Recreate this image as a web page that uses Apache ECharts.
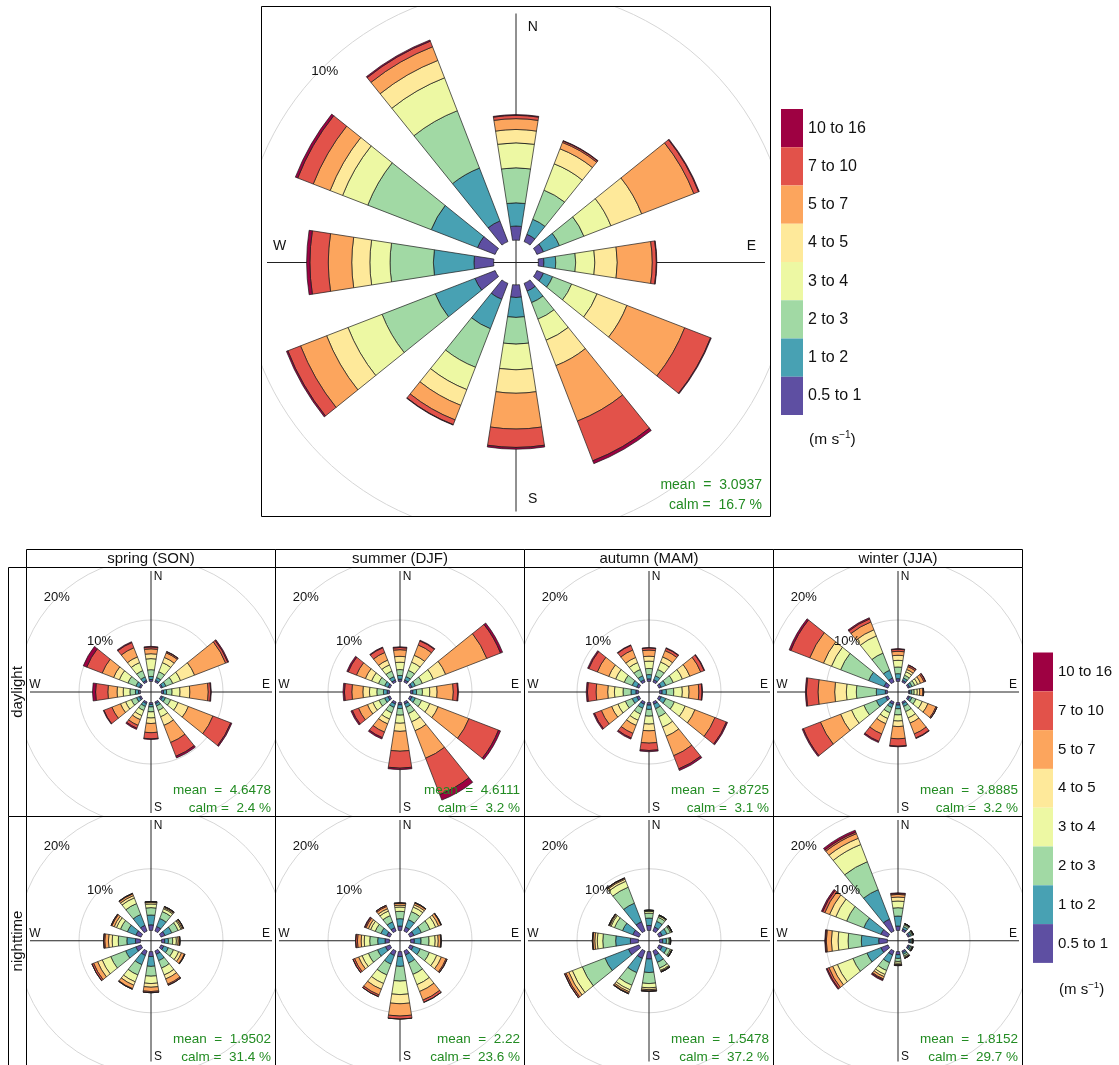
<!DOCTYPE html>
<html><head><meta charset="utf-8">
<script src="https://cdn.jsdelivr.net/npm/echarts@6/dist/echarts.min.js"></script>
<style>html,body{margin:0;padding:0;background:#fff}#c{width:1119px;height:1065px}</style>
</head><body><div id="c"></div>
<script>
// ---------------- DATA ----------------
const directions = ['N','30','60','E','120','150','S','210','240','W','300','330'];
const speedBins = ['0.5 to 1','1 to 2','2 to 3','3 to 4','4 to 5','5 to 7','7 to 10','10 to 16'];
// rows = direction (N, 30°, 60°, E, ...), columns = % frequency of each speed bin
const allData = [
  [0.56,0.92,1.39,0.99,0.53,0.43,0.13,0.03],
  [0.31,0.64,1.24,1.12,0.64,0.27,0.06,0.02],
  [0.28,0.68,1.04,1.15,1.31,2.22,0.20,0.03],
  [0.22,0.47,0.79,0.76,0.89,1.39,0.16,0.02],
  [0.28,0.39,0.81,1.08,1.27,2.46,1.10,0.03],
  [0.33,0.49,0.70,0.90,1.08,2.36,1.69,0.12],
  [0.50,0.79,1.06,1.02,0.93,1.42,0.73,0.07],
  [0.68,1.25,1.64,0.95,0.67,0.62,0.20,0.02],
  [0.86,1.69,2.26,1.45,0.91,1.11,0.54,0.06],
  [0.78,1.61,1.72,0.80,0.72,0.93,0.73,0.13],
  [0.75,1.97,2.70,1.07,0.53,0.72,0.66,0.10],
  [0.88,2.25,2.44,1.40,0.74,0.58,0.24,0.05]
];
const springDay = [
  [0.3,0.5,1.1,1.8,0.8,0.8,0.3,0.1],
  [0.3,0.5,1.0,1.6,0.9,0.8,0.2,0.05],
  [0.27,0.6,1.2,1.36,2.45,5.43,0.38,0.16],
  [0.3,0.5,0.9,1.3,1.6,3.0,0.4,0.1],
  [0.3,0.5,0.9,1.3,1.8,4.3,3.1,0.2],
  [0.3,0.4,0.8,1.1,1.5,3.0,2.4,0.3],
  [0.3,0.4,0.8,1.0,0.9,1.5,1.0,0.1],
  [0.3,0.5,0.7,0.9,0.7,1.0,0.5,0.2],
  [0.3,0.5,0.9,1.0,0.9,1.5,1.4,0.1],
  [0.3,0.5,0.9,1.1,1.0,1.5,2.0,0.5],
  [0.3,0.6,1.4,1.5,1.0,2.0,2.7,0.6],
  [0.3,0.6,1.1,1.4,1.0,1.6,0.9,0.15]
];
const summerDay = [
  [0.36,0.6,0.96,1.2,0.96,1.08,0.36,0.12],
  [0.36,0.6,1.08,1.44,1.2,1.8,0.72,0.12],
  [0.36,0.6,1.2,1.92,2.16,7.2,2.4,0.36],
  [0.36,0.6,0.96,1.2,1.2,2.64,0.72,0.12],
  [0.36,0.6,1.08,1.44,1.44,5.4,5.16,0.36],
  [0.36,0.6,1.08,1.44,1.56,4.8,6.36,0.96],
  [0.36,0.6,1.08,1.32,1.32,3.24,2.76,0.24],
  [0.36,0.6,0.96,1.08,0.84,1.44,0.96,0.24],
  [0.36,0.6,0.96,1.08,0.96,1.56,1.08,0.24],
  [0.36,0.6,1.08,1.2,1.08,1.8,1.2,0.24],
  [0.36,0.6,1.08,1.2,1.08,1.56,1.44,0.24],
  [0.36,0.6,0.96,1.08,0.84,1.32,0.84,0.12]
];
const autumnDay = [
  [0.4,0.7,1.0,1.2,0.8,1.0,0.35,0.05],
  [0.4,0.7,1.1,1.3,0.9,1.1,0.4,0.1],
  [0.4,0.8,1.3,1.6,1.3,1.9,0.6,0.1],
  [0.4,0.7,1.2,1.4,1.1,1.6,0.5,0.1],
  [0.4,0.8,1.5,1.9,1.7,3.5,2.0,0.2],
  [0.4,0.8,1.4,1.8,1.6,3.4,2.3,0.3],
  [0.4,0.7,1.1,1.3,1.1,2.0,1.2,0.2],
  [0.4,0.7,1.0,1.1,0.9,1.4,0.8,0.2],
  [0.4,0.8,1.2,1.3,1.1,1.8,1.2,0.2],
  [0.4,0.8,1.3,1.4,1.1,1.9,1.4,0.2],
  [0.4,0.8,1.4,1.5,1.2,2.0,1.5,0.2],
  [0.4,0.7,1.1,1.2,0.9,1.3,0.8,0.1]
];
const winterDay = [
  [0.43,0.82,1.09,1.09,0.82,0.65,0.33,0.1],
  [0.3,0.4,0.5,0.6,0.4,0.5,0.25,0.05],
  [0.3,0.4,0.5,0.5,0.5,0.6,0.25,0.05],
  [0.2,0.3,0.4,0.5,0.4,0.5,0.15,0.0],
  [0.3,0.4,0.7,1.1,1.0,1.4,0.2,0.0],
  [0.3,0.5,0.9,1.1,0.9,1.9,0.7,0.1],
  [0.4,0.6,1.0,1.0,0.9,2.0,1.2,0.1],
  [0.4,0.6,0.9,1.0,0.9,1.8,1.3,0.2],
  [0.43,1.63,2.17,2.17,1.9,3.53,2.99,0.2],
  [0.33,1.47,3.26,1.63,1.9,2.72,1.9,0.16],
  [0.7,2.7,4.9,1.6,1.4,2.4,3.3,0.3],
  [0.7,1.36,3.0,3.0,1.09,1.36,0.54,0.2]
];
const springNight = [
  [0.9,1.6,1.2,0.6,0.25,0.15,0.0,0.0],
  [0.8,1.4,1.2,0.5,0.2,0.15,0.05,0.0],
  [0.7,1.2,1.1,0.5,0.2,0.2,0.05,0.0],
  [0.5,0.6,0.7,0.6,0.3,0.25,0.05,0.0],
  [0.5,0.8,0.9,0.9,0.5,0.5,0.1,0.0],
  [0.6,1.1,1.3,1.2,0.7,0.9,0.2,0.0],
  [0.8,1.6,1.6,1.2,0.6,0.7,0.2,0.0],
  [0.8,1.6,1.8,1.2,0.6,0.6,0.1,0.0],
  [0.9,1.8,2.6,1.5,0.8,0.7,0.3,0.0],
  [0.8,1.4,1.4,1.0,0.6,0.6,0.2,0.0],
  [0.9,1.5,1.2,0.7,0.4,0.4,0.15,0.0],
  [1.0,1.9,1.9,1.0,0.4,0.3,0.1,0.0]
];
const summerNight = [
  [0.7,1.2,1.2,0.7,0.3,0.3,0.1,0.0],
  [0.7,1.3,1.4,0.8,0.4,0.3,0.1,0.0],
  [0.7,1.3,1.5,1.0,0.5,0.4,0.1,0.0],
  [0.6,1.1,1.3,1.0,0.5,0.4,0.1,0.0],
  [0.6,1.2,1.6,1.3,0.8,0.8,0.2,0.0],
  [0.7,1.4,2.0,1.8,1.2,1.5,0.4,0.0],
  [0.8,1.6,2.4,2.2,1.5,2.0,0.5,0.0],
  [0.8,1.5,1.9,1.5,1.0,1.0,0.3,0.0],
  [0.8,1.4,1.6,1.1,0.6,0.7,0.3,0.0],
  [0.7,1.2,1.3,0.9,0.5,0.6,0.3,0.0],
  [0.6,1.0,1.0,0.8,0.4,0.4,0.2,0.1],
  [0.6,1.0,1.1,0.8,0.4,0.4,0.2,0.0]
];
const autumnNight = [
  [0.8,1.2,0.8,0.3,0.1,0.1,0.0,0.0],
  [0.7,1.0,0.7,0.25,0.1,0.05,0.0,0.0],
  [0.6,0.8,0.6,0.2,0.05,0.05,0.0,0.0],
  [0.5,0.6,0.45,0.15,0.05,0.05,0.0,0.0],
  [0.6,0.8,0.6,0.2,0.05,0.05,0.0,0.0],
  [0.8,1.2,1.0,0.4,0.15,0.1,0.05,0.0],
  [1.2,2.2,1.8,0.7,0.3,0.2,0.1,0.0],
  [1.3,2.5,2.2,0.8,0.35,0.25,0.1,0.0],
  [1.86,4.1,3.97,1.74,0.62,0.5,0.25,0.0],
  [1.3,2.4,2.1,0.9,0.4,0.3,0.1,0.0],
  [1.1,1.8,1.4,0.6,0.2,0.15,0.05,0.0],
  [1.62,3.25,2.8,1.05,0.35,0.17,0.06,0.0]
];
const winterNight = [
  [0.7,1.63,1.36,1.09,0.65,0.43,0.16,0.1],
  [0.35,0.4,0.3,0.15,0.06,0.03,0.01,0.0],
  [0.3,0.3,0.2,0.1,0.05,0.03,0.01,0.01],
  [0.2,0.2,0.15,0.08,0.04,0.02,0.01,0.0],
  [0.25,0.25,0.2,0.1,0.05,0.03,0.01,0.01],
  [0.3,0.3,0.3,0.2,0.1,0.05,0.03,0.02],
  [0.5,0.6,0.5,0.3,0.2,0.1,0.05,0.05],
  [0.7,1.36,1.36,0.7,0.38,0.38,0.16,0.16],
  [1.25,2.45,2.45,2.72,0.82,0.65,0.33,0.16],
  [1.41,2.83,2.17,1.63,1.09,0.82,0.16,0.1],
  [1.25,3.0,3.0,1.9,1.09,0.82,0.38,0.22],
  [2.07,5.16,4.9,3.0,1.09,0.82,0.27,0.33]
];
const seasonTitles = ['spring (SON)','summer (DJF)','autumn (MAM)','winter (JJA)'];
const rowTitles = ['daylight','nighttime'];
const mainMean = '3.0937', mainCalm = '16.7';
const panelMeans = [['4.6478','4.6111','3.8725','3.8885'],['1.9502','2.22','1.5478','1.8152']];
const panelCalms = [['2.4','3.2','3.1','3.2'],['31.4','23.6','37.2','29.7']];
const panelData = [[springDay,summerDay,autumnDay,winterDay],[springNight,summerNight,autumnNight,winterNight]];
const mainGrid = [10];
const panelGrid = [10, 20];
const unitLabel = '(m s{sup|\u22121})';

// ---------------- STYLE / LAYOUT ----------------
const FONT = '"Liberation Sans", Arial, Helvetica, sans-serif';
const binColors = ['#5E4FA2','#48A1B3','#A1D9A4','#EDF8A3','#FEE99A','#FCA55D','#E2524A','#9E0142'];
const TXT = '#111';
const GREEN = '#228B22';

const panels = [];
panels.push({data: allData, x:261.5, y:6.5, w:509, h:510, cx:516, cy:262.5,
  inner:22.4, k:25.2, max:10, levels: mainGrid, lineHalf:249, pctIn:4,
  dirFont:14, dirAlong:235.5, dirSide:16.7, pctFont:13.5,
  mean: mainMean, calm: mainCalm, statFont:14, statRight:8.5, meanDy:31, calmDy:11});
for (let r = 0; r < 2; r++) for (let c = 0; c < 4; c++) {
  const x = 26.5 + 249*c, y = 567.5 + 249*r;
  panels.push({data: panelData[r][c], x, y, w:249, h:249, cx:x+124.5, cy:y+124.5,
    inner:10.7, k:6.13, max:20, levels: panelGrid, lineHalf:121, pctIn:0,
    dirFont:12, dirAlong:115, dirSide:7, pctFont:13,
    mean: panelMeans[r][c], calm: panelCalms[r][c], statFont:13.5, statRight:4.5, meanDy:26.5, calmDy:8});
}

const polar=[], angleAxis=[], radiusAxis=[], grid=[], xAxis=[], yAxis=[], series=[], graphic=[];
const txt = (x, y, text, size, opts) => Object.assign({type:'text', x, y, z:100,
  style:{text, fill:TXT, font: size + 'px ' + FONT, textAlign:'center', textVerticalAlign:'middle'}}, opts || {});

panels.forEach((p, i) => {
  const off = p.inner / p.k;
  polar.push({center:[p.cx, p.cy], radius:[p.inner, p.inner + p.k*p.max]});
  angleAxis.push({polarIndex:i, type:'category', data:directions, startAngle:105, clockwise:true,
    axisLine:{show:false}, axisTick:{show:false}, axisLabel:{show:false}, splitLine:{show:false}});
  radiusAxis.push({polarIndex:i, type:'value', min:0, max:p.max,
    axisLine:{show:false}, axisTick:{show:false}, axisLabel:{show:false}, splitLine:{show:false}});
  grid.push({left:p.x, top:p.y, width:p.w, height:p.h, show:false});
  xAxis.push({gridIndex:i, type:'value', min:-(p.cx - p.x)/p.k, max:(p.x + p.w - p.cx)/p.k, show:false});
  yAxis.push({gridIndex:i, type:'value', min:-(p.y + p.h - p.cy)/p.k, max:(p.cy - p.y)/p.k, show:false});
  // grid circles (clipped to the panel)
  series.push({type:'custom', coordinateSystem:'cartesian2d', xAxisIndex:i, yAxisIndex:i, clip:true, silent:true, z:1,
    data: p.levels.map(l => [l, 0]),
    renderItem: (params, api) => {
      const c0 = api.coord([0, 0]);
      const r = api.size([api.value(0) + off, 0])[0];
      return {type:'circle', shape:{cx:c0[0], cy:c0[1], r}, style:{fill:'none', stroke:'#d6d6d6', lineWidth:1}};
    }});
  // cross axes
  const L = p.lineHalf / p.k;
  series.push({type:'custom', coordinateSystem:'cartesian2d', xAxisIndex:i, yAxisIndex:i, clip:true, silent:true, z:1,
    data: [[L, 0], [0, L]],
    renderItem: (params, api) => {
      const a = api.value(0), b = api.value(1);
      const p1 = api.coord([-a, -b]), p2 = api.coord([a, b]);
      return {type:'line', shape:{x1:p1[0], y1:p1[1], x2:p2[0], y2:p2[1]}, style:{stroke:'#222', lineWidth:1}};
    }});
  // stacked bars
  speedBins.forEach((b, j) => {
    series.push({type:'bar', name:b, coordinateSystem:'polar', polarIndex:i, stack:'s'+i,
      barCategoryGap:'41%', silent:true, z:2,
      data: p.data.map(row => row[j]),
      itemStyle:{color:binColors[j], borderColor:'#1a1a1a', borderWidth:0.7}});
  });
  // frame
  graphic.push({type:'rect', z:90, shape:{x:p.x, y:p.y, width:p.w, height:p.h}, style:{fill:'none', stroke:'#000', lineWidth:1}});
  // direction labels
  graphic.push(txt(p.cx + p.dirSide, p.cy - p.dirAlong, 'N', p.dirFont));
  graphic.push(txt(p.cx + p.dirSide, p.cy + p.dirAlong + 1, 'S', p.dirFont));
  graphic.push(txt(p.cx - p.dirAlong - 1, p.cy - p.dirSide, 'W', p.dirFont));
  graphic.push(txt(p.cx + p.dirAlong, p.cy - p.dirSide, 'E', p.dirFont));
  // grid labels
  p.levels.forEach(l => {
    const r = p.inner + l * p.k - p.pctIn;
    graphic.push(txt(p.cx - r*Math.SQRT1_2, p.cy - r*Math.SQRT1_2, l + '%', p.pctFont));
  });
  // stats
  graphic.push(txt(p.x + p.w - p.statRight, p.y + p.h - p.meanDy, 'mean  =  ' + p.mean, p.statFont,
    {style:{text:'mean  =  ' + p.mean, fill:GREEN, font:p.statFont + 'px ' + FONT, textAlign:'right', textVerticalAlign:'middle'}}));
  graphic.push(txt(p.x + p.w - p.statRight, p.y + p.h - p.calmDy, '', p.statFont,
    {style:{text:'calm =  ' + p.calm + ' %', fill:GREEN, font:p.statFont + 'px ' + FONT, textAlign:'right', textVerticalAlign:'middle'}}));
});

// strips
seasonTitles.forEach((t, c) => {
  const x = 26.5 + 249*c;
  graphic.push({type:'rect', z:90, shape:{x, y:549.5, width:249, height:18}, style:{fill:'#fff', stroke:'#000', lineWidth:1}});
  graphic.push(txt(x + 124.5, 558.5, t, 15));
});
rowTitles.forEach((t, r) => {
  const y = 567.5 + 249*r;
  graphic.push({type:'rect', z:90, shape:{x:8.5, y, width:18, height:249}, style:{fill:'#fff', stroke:'#000', lineWidth:1}});
  graphic.push(txt(17.5, y + 124.5, t, 15, {rotation: Math.PI/2}));
});
// unit labels
const unitText = (x, y, size) => ({type:'text', x, y, z:100, style:{text:unitLabel, fill:TXT, font:size+'px '+FONT,
  textAlign:'left', textVerticalAlign:'middle',
  rich:{sup:{fontSize:size*0.65, fontFamily:FONT, fill:TXT, verticalAlign:'top', lineHeight:size*1.3}}}});
graphic.push(unitText(809, 440, 15.5));
graphic.push(unitText(1059, 990, 15));

const legendBase = {orient:'vertical', itemGap:0, padding:0, icon:'rect', selectedMode:false,
  data: speedBins.slice().reverse(), itemStyle:{borderWidth:0}};
const option = {
  animation:false,
  backgroundColor:'#fff',
  textStyle:{fontFamily:FONT},
  polar, angleAxis, radiusAxis, grid, xAxis, yAxis, series, graphic,
  legend:[
    Object.assign({}, legendBase, {left:781, top:109, itemWidth:22, itemHeight:38.25,
      textStyle:{fontSize:16, color:TXT, fontFamily:FONT}}),
    Object.assign({}, legendBase, {left:1033, top:652.5, itemWidth:20, itemHeight:38.8,
      textStyle:{fontSize:15, color:TXT, fontFamily:FONT}})
  ]
};
const chart = echarts.init(document.getElementById('c'), null, {renderer:'canvas'});
chart.setOption(option);
</script>
</body></html>
